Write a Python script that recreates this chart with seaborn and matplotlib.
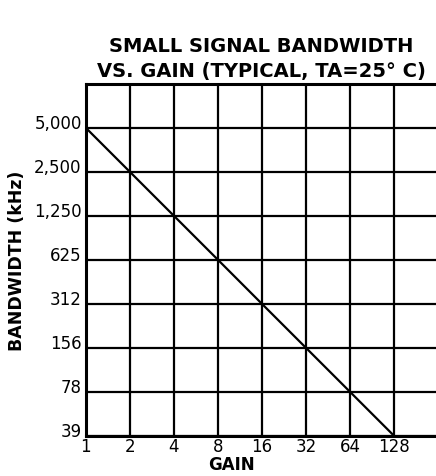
import numpy as np
import pandas as pd
import matplotlib
matplotlib.use("Agg")
import matplotlib.pyplot as plt
import seaborn as sns
from matplotlib.ticker import FixedLocator, FixedFormatter, NullLocator

gain = [1, 2, 4, 8, 16, 32, 64, 128]
bandwidth = [5000, 2500, 1250, 625, 312, 156, 78, 39]
gain_labels = ["1", "2", "4", "8", "16", "32", "64", "128"]
bw_labels = ["39", "78", "156", "312", "625", "1,250", "2,500", "5,000"]

sns.set_style("white")
plt.rcParams["font.family"] = ["DejaVu Sans"]
plt.rcParams["text.color"] = "black"
plt.rcParams["axes.labelcolor"] = "black"

df = pd.DataFrame({"gain": gain, "bandwidth": bandwidth})

fig = plt.figure(figsize=(4.36, 4.77), dpi=100)
ax = fig.add_axes([0.197, 0.084, 0.803, 0.738])

sns.lineplot(data=df, x="gain", y="bandwidth", color="black", linewidth=1.6, ax=ax)

ax.set_xscale("log")
ax.set_yscale("log")
ax.set_xlim(1, 2 ** 7.95)
ax.set_ylim(39, 10000)

ax.xaxis.set_major_locator(FixedLocator(gain))
ax.xaxis.set_major_formatter(FixedFormatter(gain_labels))
ax.xaxis.set_minor_locator(NullLocator())
ax.yaxis.set_major_locator(FixedLocator(bandwidth[::-1]))
ax.yaxis.set_major_formatter(FixedFormatter(bw_labels))
ax.yaxis.set_minor_locator(NullLocator())

ax.grid(True, which="major", color="black", linewidth=1.6)
ax.tick_params(axis="both", length=0, labelsize=12, colors="black")
ax.tick_params(axis="x", pad=1)
ax.tick_params(axis="y", pad=3)
# labels sit on the gridline, as in the printed chart
for lab in ax.get_yticklabels():
    lab.set_verticalalignment("baseline")

for side in ["left", "bottom", "top"]:
    ax.spines[side].set_visible(True)
    ax.spines[side].set_color("black")
    ax.spines[side].set_linewidth(2.2)
ax.spines["right"].set_visible(False)

ax.set_xlabel("GAIN", fontsize=12, fontweight="bold", labelpad=-1)
ax.xaxis.set_label_coords(0.417, -0.055)
ax.set_ylabel("BANDWIDTH (kHz)", fontsize=12.5, fontweight="bold", labelpad=6)
ax.set_title("SMALL SIGNAL BANDWIDTH\nVS. GAIN (TYPICAL, TA=25° C)",
             fontsize=14, fontweight="bold", linespacing=1.35, pad=6)

fig.savefig("out.png", dpi=100)
